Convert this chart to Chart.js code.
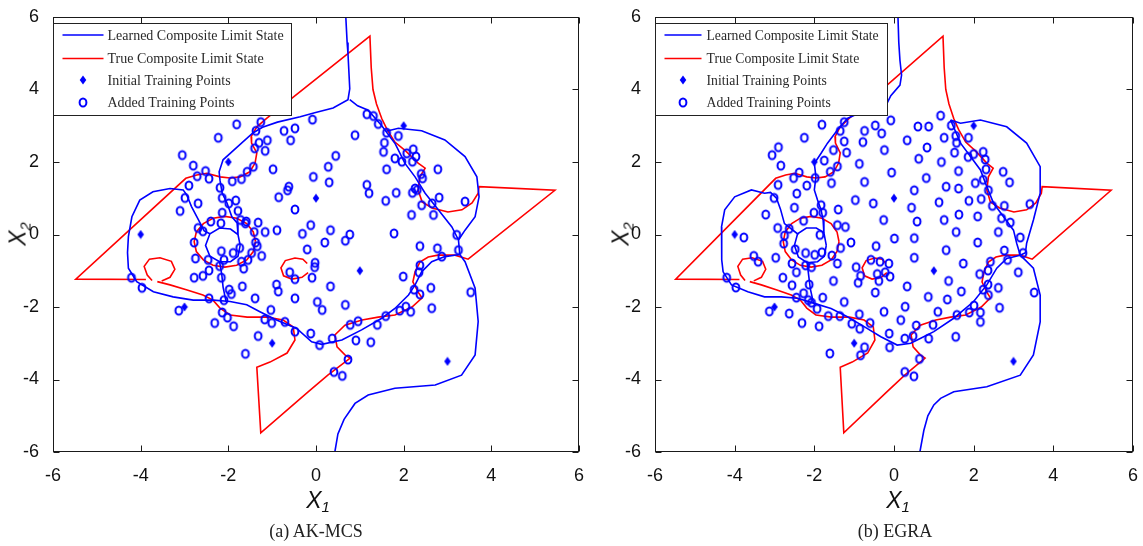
<!DOCTYPE html>
<html><head><meta charset="utf-8">
<script src="https://cdn.jsdelivr.net/npm/chart.js@4.4.0/dist/chart.umd.min.js"></script>
<style>
html,body{margin:0;padding:0;background:#fff;}
body{width:1143px;height:546px;position:relative;overflow:hidden;}
canvas{position:absolute;top:0;}
.ax{position:absolute;font-family:"Liberation Sans",Arial,sans-serif;font-size:23px;font-style:italic;color:#111;white-space:nowrap;line-height:1;}
.ax sub{font-size:15px;vertical-align:-0.3em;line-height:0;}
.xl{transform:translate(-50%,-50%);}
.yl{transform:translate(-50%,-50%) rotate(-90deg);}
.cap{position:absolute;font-family:"Liberation Serif","Times New Roman",serif;font-size:18px;color:#222;transform:translate(-50%,-50%);white-space:nowrap;}
</style></head><body>
<canvas id="c1" width="600" height="546" style="left:0"></canvas>
<canvas id="c2" width="548" height="546" style="left:595px"></canvas>
<div class="ax xl" style="left:318px;top:500px">X<sub>1</sub></div>
<div class="ax yl" style="left:18px;top:234px">X<sub>2</sub></div>
<div class="ax xl" style="left:898px;top:500px">X<sub>1</sub></div>
<div class="ax yl" style="left:621px;top:234px">X<sub>2</sub></div>
<div class="cap" style="left:316px;top:531px">(a) AK-MCS</div>
<div class="cap" style="left:895px;top:531px">(b) EGRA</div>
<script>
// ---------- tick labels ----------
const tickValues = [-6,-4,-2,0,2,4,6];
const xTickLabels = ['-6','-4','-2','0','2','4','6'];
const yTickLabels = ['-6','-4','-2','0','2','4','6'];
const legendLabels = ['Learned Composite Limit State','True Composite Limit State','Initial Training Points','Added Training Points'];

// ---------- true composite limit state (red, same in both panels) ----------
const trueMain = [[-3.62,-1.30],[-3.33,-1.39],[-2.94,-1.53],[-2.58,-1.67],[-2.35,-1.81],[-2.19,-2.03],[-1.96,-2.22],[-1.57,-2.28],[-1.12,-2.28],[-0.75,-2.36],[-0.52,-2.55],[-0.48,-2.91],[-0.66,-3.27],[-1.05,-3.52],[-1.35,-3.66],[-1.26,-5.47],[-0.18,-4.34],[0.27,-3.88],[0.78,-3.41],[0.66,-3.32],[0.48,-3.10],[0.43,-2.77],[0.66,-2.50],[1.05,-2.36],[1.42,-2.28],[1.80,-2.22],[2.19,-2.00],[2.42,-1.75],[2.33,-1.59],[2.21,-1.31],[2.26,-1.03],[2.37,-0.76],[2.56,-0.62],[2.78,-0.57],[3.17,-0.57],[3.47,-0.68],[5.45,1.22],[3.72,1.32],[3.70,1.14],[3.56,0.87],[3.33,0.68],[3.01,0.62],[2.65,0.73],[2.42,0.90],[2.33,1.23],[2.37,1.59],[2.49,1.83],[2.33,1.97],[2.05,2.30],[1.80,2.55],[1.62,2.90],[1.50,3.20],[1.38,3.60],[1.30,4.00],[1.26,4.60],[1.23,5.47],[-1.12,3.21],[-1.35,2.97],[-1.48,2.70],[-1.47,2.52],[-1.35,2.25],[-1.39,1.97],[-1.51,1.73],[-1.73,1.59],[-1.96,1.56],[-2.19,1.59],[-2.49,1.69],[-2.72,1.64],[-2.97,1.55],[-5.48,-1.23],[-3.88,-1.24]];
const trueLoopLeft = [[-3.74,-1.27],[-3.85,-1.12],[-3.92,-0.88],[-3.80,-0.68],[-3.56,-0.64],[-3.30,-0.74],[-3.22,-0.96],[-3.33,-1.18],[-3.52,-1.28]];
const trueLoopMid = [[-0.20,-0.80],[-0.30,-0.68],[-0.48,-0.65],[-0.70,-0.72],[-0.80,-0.92],[-0.74,-1.14],[-0.55,-1.23],[-0.32,-1.18],[-0.18,-1.05]];
const trueCircle = [[-1.38,-0.20],[-1.43,0.07],[-1.58,0.30],[-1.81,0.45],[-2.08,0.50],[-2.35,0.45],[-2.57,0.30],[-2.73,0.07],[-2.78,-0.20],[-2.73,-0.47],[-2.57,-0.70],[-2.35,-0.85],[-2.08,-0.90],[-1.81,-0.85],[-1.58,-0.70],[-1.43,-0.47],[-1.38,-0.20]];

// ---------- learned limit state, AK-MCS (blue) ----------
const akTop = [[0.68,6.0],[0.71,5.3],[0.73,4.98],[0.77,4.02],[0.73,3.72],[0.39,3.49],[-0.03,3.36],[-0.36,3.25],[-0.88,3.10],[-1.22,2.96],[-1.44,2.80],[-1.80,2.41],[-2.12,2.06],[-2.21,1.73],[-2.19,1.50],[-2.14,1.14],[-2.03,0.87],[-1.92,0.49],[-1.80,0.32],[-1.78,0.0]];
const akDiag = [[0.77,3.72],[0.95,3.55],[1.19,3.43],[1.50,3.00],[1.80,2.52],[2.03,1.96],[2.26,1.59],[2.49,1.14],[2.79,0.68],[3.10,0.21],[3.25,-0.15],[3.28,-0.55]];
const akUpperRight = [[1.60,2.85],[1.88,2.93],[2.41,2.86],[2.94,2.61],[3.40,2.15],[3.67,1.59],[3.72,1.04],[3.63,0.49],[3.40,0.12],[3.25,-0.15]];
const akLeftBottom = [[-2.42,0.02],[-2.55,0.10],[-2.72,0.49],[-2.84,0.77],[-2.95,1.09],[-3.03,1.23],[-3.33,1.27],[-3.72,1.18],[-4.02,0.95],[-4.20,0.49],[-4.28,-0.06],[-4.30,-0.50],[-4.28,-0.93],[-4.09,-1.30],[-3.71,-1.58],[-3.26,-1.72],[-2.80,-1.81],[-2.34,-1.81],[-1.96,-1.85],[-1.58,-1.94],[-1.28,-2.13],[-0.90,-2.36],[-0.44,-2.59],[-0.10,-2.96],[0.13,-3.03],[0.59,-2.91],[1.04,-2.63],[1.50,-2.31],[1.80,-2.04],[2.11,-1.67],[2.26,-1.39],[2.41,-1.03],[2.64,-0.75],[2.94,-0.61],[3.28,-0.55]];
const akLowerRight = [[3.28,-0.55],[3.40,-0.75],[3.63,-1.48],[3.70,-2.40],[3.63,-3.32],[3.32,-3.88],[2.72,-4.15],[1.80,-4.24],[1.19,-4.43],[0.89,-4.66],[0.64,-5.10],[0.50,-5.50],[0.43,-6.0]];
const akRing = [[-1.73,-0.30],[-1.78,0.0],[-1.95,0.15],[-2.20,0.18],[-2.42,0.02],[-2.52,-0.30],[-2.42,-0.60],[-2.20,-0.75],[-1.95,-0.75],[-1.78,-0.60],[-1.73,-0.30]];
const akRingDown = [[-2.20,-0.75],[-2.15,-1.10],[-2.12,-1.45],[-2.05,-1.86]];

// ---------- learned limit state, EGRA (blue) ----------
const egTop = [[0.10,6.0],[0.12,5.3],[0.15,4.8],[0.19,4.4],[0.15,4.12],[-0.08,3.83],[-0.17,3.63],[-0.45,3.44],[-0.90,3.34],[-1.17,3.20],[-1.42,2.88],[-1.67,2.52],[-1.83,2.24],[-2.00,1.96],[-1.96,1.59],[-2.00,1.23],[-1.92,0.95],[-1.83,0.68],[-1.78,0.40],[-1.76,0.05]];
const egDiag = [[1.42,3.16],[1.67,2.52],[1.92,2.15],[2.17,1.78],[2.33,1.32],[2.50,0.86],[2.75,0.49],[3.00,0.12],[3.08,-0.24],[3.17,-0.57]];
const egUpperRight = [[1.42,3.16],[1.67,3.07],[2.17,3.16],[2.83,2.97],[3.33,2.52],[3.67,1.87],[3.67,1.14],[3.50,0.40],[3.33,-0.24],[3.30,-0.50],[3.17,-0.57]];
const egLeftBottom = [[-2.40,0.00],[-2.75,0.30],[-2.85,0.70],[-2.95,1.00],[-3.10,1.16],[-3.25,1.14],[-3.58,1.23],[-4.00,1.04],[-4.25,0.68],[-4.33,0.21],[-4.33,-0.24],[-4.32,-0.70],[-4.29,-1.03],[-4.08,-1.39],[-3.67,-1.58],[-3.25,-1.72],[-2.83,-1.72],[-2.42,-1.76],[-2.00,-1.90],[-1.58,-2.04],[-1.17,-2.27],[-0.75,-2.54],[-0.33,-2.82],[0.08,-3.05],[0.42,-3.00],[0.67,-2.86],[1.00,-2.68],[1.50,-2.31],[2.00,-1.85],[2.33,-1.39],[2.58,-0.93],[2.83,-0.66],[3.17,-0.57]];
const egLowerRight = [[3.17,-0.57],[3.50,-0.93],[3.67,-1.67],[3.67,-2.41],[3.50,-3.32],[3.17,-3.88],[2.33,-4.20],[1.50,-4.34],[1.17,-4.52],[1.00,-4.70],[0.85,-5.00],[0.75,-5.40],[0.65,-6.0]];
const egRing = [[-1.70,-0.30],[-1.76,0.05],[-1.95,0.18],[-2.20,0.18],[-2.42,0.02],[-2.50,-0.30],[-2.40,-0.62],[-2.18,-0.78],[-1.92,-0.75],[-1.75,-0.60],[-1.70,-0.30]];
const egRingDown = [[-2.18,-0.78],[-2.14,-1.15],[-2.10,-1.50],[-2.02,-1.90]];

// ---------- training points ----------
const initialPoints = [[2,3],[-2,2],[0,1],[-4,0],[1,-1],[-3,-2],[-1,-3],[3,-3.5]];
const akAdded = [[-1.81,3.04],[-1.26,3.10],[-0.73,2.86],[-0.48,2.93],[-0.08,3.17],[-0.58,2.60],[-1.37,2.86],[-2.23,2.67],[-1.30,2.53],[-1.11,2.60],[-1.16,2.31],[-1.40,2.38],
[1.16,3.32],[1.31,3.27],[1.42,3.05],[1.61,2.81],[1.88,2.72],[0.89,2.74],[1.56,2.53],[1.54,2.28],[1.80,2.10],[1.96,2.01],[2.07,2.24],[2.22,2.35],[2.28,2.15],[2.20,2.01],[1.61,1.80],[2.40,1.67],[2.43,1.55],[2.78,1.80],[2.26,1.27],[2.31,1.23],[2.20,1.15],[2.41,0.81],[2.65,0.86],[2.81,1.02],[2.68,0.54],[2.18,0.54],[3.40,0.91],[1.78,0.03],[3.21,-0.01],[3.25,-0.43],[2.37,-0.32],[2.77,-0.38],[2.87,-0.61],[1.83,1.15],[1.59,0.93],[1.21,1.14],[1.16,1.37],[0.45,2.17],[0.28,1.87],[0.30,1.44],[-0.06,1.59],
[-0.98,1.80],[-1.43,1.87],[-1.57,1.73],[-1.70,1.53],[-1.91,1.47],[-2.44,1.54],[-2.52,1.75],[-2.71,1.61],[-2.80,1.90],[-3.05,2.19],[-2.90,1.35],[-2.19,1.29],[-2.99,1.01],[-3.10,0.65],[-2.69,0.86],[-2.14,1.01],[-1.99,0.86],[-1.83,0.94],[-1.78,0.65],[-2.14,0.60],[-2.40,0.36],[-2.17,0.31],[-1.72,0.40],[-1.59,0.36],[-1.32,0.33],[-1.41,0.07],[-1.16,0.07],[-0.89,0.12],[-0.65,1.22],[-0.62,1.32],[-0.85,1.03],[-0.48,0.69],[-0.12,0.26],[-0.31,0.02],[0.33,0.12],[0.20,-0.22],[0.77,0.00],[0.67,-0.17],[-0.20,-0.41],[-0.02,-0.78],[-0.03,-0.90],[-0.60,-1.04],[-0.48,-1.23],[-0.09,-1.19],[0.33,-1.43],[0.03,-1.86],[0.14,-2.08],[0.67,-1.94],[-0.48,-1.76],[-0.90,-1.38],[-0.86,-1.57],[-1.68,-1.43],[-1.39,-1.76],[-1.03,-2.08],[-1.01,-2.44],[-0.71,-2.41],[-0.48,-2.68],[-0.12,-2.73],[0.08,-3.05],[0.37,-2.87],[0.78,-2.49],[0.96,-2.39],[0.91,-2.92],[1.25,-2.97],[1.40,-2.49],[-1.32,-2.80],[-1.61,-3.29],[-1.17,-2.34],[-2.31,-2.44],[-2.14,-2.15],[-2.02,-2.29],[-1.88,-2.53],[-2.10,-1.81],[-2.44,-1.76],[-1.98,-1.52],[-1.93,-1.64],[-3.13,-2.10],[-4.21,-1.19],[-3.97,-1.47],[0.73,-3.45],[0.41,-3.79],[0.60,-3.90],[1.59,-2.25],[1.91,-2.10],[2.05,-1.99],[2.16,-2.13],[1.99,-1.16],[2.37,-0.85],[2.35,-1.04],[2.24,-1.52],[2.37,-1.65],[2.62,-1.47],[2.64,-2.03],[3.53,-1.59],
[-2.20,-0.87],[-2.16,-1.19],[-2.44,-0.99],[-2.58,-1.14],[-2.78,-1.19],[-2.75,-0.66],[-2.78,-0.22],[-2.69,0.18],[-2.58,0.09],[-2.46,-0.70],[-2.10,-0.70],[-2.16,-0.46],[-1.89,-0.51],[-1.74,-0.37],[-1.70,-0.75],[-1.65,-0.94],[-1.47,-0.51],[-1.38,-0.22],[-1.34,-0.32],[-1.24,-0.59],[-1.55,-0.70],[-1.61,0.31]];
const egAdded = [[1.17,3.28],[-0.08,3.15],[-0.47,3.01],[-0.31,2.79],[-0.74,2.86],[-1.25,3.10],[-1.81,3.03],[-1.35,2.86],[-1.25,2.57],[-1.19,2.26],[-0.78,2.55],[-0.24,2.33],[0.33,2.60],[0.60,2.98],[0.87,2.98],[1.26,2.67],[1.44,3.01],[0.83,2.40],[0.62,2.09],[1.19,2.00],[1.55,2.72],[1.57,2.53],[1.87,2.67],[1.52,2.26],[1.62,1.75],[1.86,2.14],[2.00,2.22],[2.24,2.28],[2.29,2.07],[2.31,1.80],[2.24,1.51],[2.04,1.42],[2.37,1.22],[2.74,1.73],[2.90,1.44],[2.19,0.98],[2.47,0.79],[2.77,0.79],[3.41,0.84],[2.70,0.45],[2.92,0.33],[2.10,0.50],[1.88,0.93],[1.63,0.55],[1.62,1.27],[1.31,1.32],[1.13,0.89],[1.26,0.40],[1.56,0.07],[1.31,-0.43],[1.74,-0.80],[2.10,-0.22],[2.62,0.07],[2.77,-0.44],[2.85,-0.70],[3.17,-0.08],[3.24,-0.51],[3.12,-1.04],[3.52,-1.60],[2.42,-0.75],[2.36,-0.99],[2.15,-1.09],[2.36,-1.38],[2.24,-1.52],[2.37,-1.67],[2.62,-1.47],[2.65,-2.02],[2.01,-1.96],[1.89,-2.15],[2.17,-2.15],[2.17,-2.41],[1.58,-2.22],[1.69,-1.57],[1.34,-1.79],[1.37,-1.28],[1.10,-2.13],[0.86,-1.72],[0.28,-1.99],[0.33,-1.43],[0.51,-0.64],[0.51,-0.10],[0.58,0.36],[0.44,0.74],[0.51,1.22],[0.81,1.56],[-0.06,1.71],[-0.52,0.86],[-0.97,0.95],[-0.74,1.45],[-0.87,1.95],[-0.26,0.40],[0.01,-0.11],[-0.45,-0.32],[-0.58,-0.70],[-0.35,-0.75],[-0.13,-0.80],[-0.42,-1.09],[-0.22,-1.04],[-0.10,-1.16],[-0.38,-1.28],[-0.47,-1.60],[-0.95,-0.90],[-0.84,-1.14],[-0.90,-1.33],[-1.08,-0.22],[-1.22,0.21],[-1.40,0.69],[-1.42,0.26],[-1.42,-0.80],[-1.56,-0.58],[-1.34,-0.37],[-1.52,-1.28],[-1.25,-1.86],[-1.79,-1.74],[-1.93,-2.05],[-1.65,-2.25],[-1.36,-2.25],[-1.06,-2.46],[-0.86,-2.60],[-0.60,-2.44],[-0.25,-2.13],[0.17,-2.36],[-0.12,-2.73],[-0.11,-3.11],[0.27,-2.87],[0.48,-2.80],[0.56,-2.51],[0.87,-2.87],[0.98,-2.49],[1.55,-2.82],[0.27,-3.79],[0.50,-3.91],[0.64,-3.43],[-1.61,-3.28],[-0.84,-3.33],[-0.74,-3.11],[-0.87,-2.20],[-1.88,-2.53],[-2.31,-2.44],[-2.63,-2.18],[-2.15,-1.81],[-2.07,-1.88],[-2.45,-1.74],[-2.56,-1.40],[-2.79,-1.19],[-2.13,-1.38],[-2.27,-1.62],[-3.13,-2.12],[-3.97,-1.46],[-4.20,-1.19],[-3.41,-0.75],[-3.52,-0.59],[-3.77,-0.08],[-2.97,-0.64],[-2.92,0.18],[-2.75,-0.03],[-2.63,0.16],[-2.77,-0.25],[-2.48,-0.41],[-2.56,-0.80],[-2.45,-1.04],[-2.22,-0.85],[-2.07,-0.90],[-2.22,-0.51],[-1.99,-0.56],[-1.86,-0.01],[-1.81,-0.49],[-1.83,0.81],[-2.01,0.60],[-2.27,0.38],[-2.50,0.74],[-2.44,1.13],[-3.01,1.01],[-3.22,0.55],[-2.91,1.37],[-2.52,1.56],[-2.38,1.71],[-2.19,1.35],[-1.98,1.56],[-1.57,1.42],[-1.60,1.73],[-1.42,1.88],[-1.75,2.04],[-1.52,2.33],[-2.25,2.67],[-2.84,1.90],[-3.06,2.19],[-2.90,2.41],[-1.79,0.60]];

// ---------- marker images ----------
const BLUE = '#0000ff', RED = '#ff0000';
function makeCircle(){
  const c = document.createElement('canvas'); c.width = 12; c.height = 13;
  const g = c.getContext('2d'); g.strokeStyle = BLUE; g.lineWidth = 2;
  g.beginPath(); g.ellipse(6, 6.5, 3.4, 4.1, 0, 0, Math.PI*2); g.stroke(); return c;
}
function makeDiamond(){
  const c = document.createElement('canvas'); c.width = 8; c.height = 10;
  const g = c.getContext('2d'); g.fillStyle = BLUE;
  g.beginPath(); g.moveTo(4,0.5); g.lineTo(7.3,5); g.lineTo(4,9.5); g.lineTo(0.7,5); g.closePath(); g.fill(); return c;
}
const circleImg = makeCircle(), diamondImg = makeDiamond();

const toXY = arr => arr.map(p => ({x:p[0], y:p[1]}));
function lineDs(pts, color, label){
  return {label: label || '', data: toXY(pts), showLine: true, borderColor: color, borderWidth: 1.6,
    pointRadius: 0, pointHoverRadius: 0, tension: 0, fill: false, order: color === RED ? 3 : 2};
}

const framePlugin = {
  id: 'frame',
  afterDatasetsDraw(chart, args, opts){
    const {ctx, chartArea: a, scales: {x, y}} = chart;
    ctx.save();
    ctx.strokeStyle = '#1a1a1a'; ctx.lineWidth = 1;
    const L = Math.round(a.left) + 0.5, R = Math.round(a.right) - 0.5, T = Math.round(a.top) + 0.5, B = Math.round(a.bottom) - 0.5;
    ctx.strokeRect(L, T, R - L, B - T);
    ctx.beginPath();
    tickValues.forEach(v => {
      const px = Math.round(x.getPixelForValue(v)) + 0.5;
      ctx.moveTo(px, B); ctx.lineTo(px, B - 6); ctx.moveTo(px, T); ctx.lineTo(px, T + 6);
      const py = Math.round(y.getPixelForValue(v)) + 0.5;
      ctx.moveTo(L, py); ctx.lineTo(L + 6, py); ctx.moveTo(R, py); ctx.lineTo(R - 6, py);
    });
    ctx.stroke();
    // legend box
    const w = opts.width, h = 92, lx = L, ly = Math.round(a.top) + 6.5;
    ctx.fillStyle = '#fff'; ctx.fillRect(lx, ly, w, h);
    ctx.strokeStyle = '#222'; ctx.lineWidth = 1; ctx.strokeRect(lx, ly, w, h);
    const rows = [18, 41.5, 63, 85].map(r => Math.round(a.top) + r);
    const s0 = lx + 9, s1 = lx + opts.sampleEnd, mid = (s0 + s1) / 2;
    ctx.lineWidth = 1.6;
    ctx.strokeStyle = BLUE; ctx.beginPath(); ctx.moveTo(s0, rows[0]); ctx.lineTo(s1, rows[0]); ctx.stroke();
    ctx.strokeStyle = RED; ctx.beginPath(); ctx.moveTo(s0, rows[1]); ctx.lineTo(s1, rows[1]); ctx.stroke();
    ctx.drawImage(diamondImg, Math.round(mid - 4), Math.round(rows[2] - 5));
    ctx.drawImage(circleImg, Math.round(mid - 6), Math.round(rows[3] - 6.5));
    ctx.fillStyle = '#2a2a2a'; ctx.textBaseline = 'middle';
    ctx.font = opts.fontSize + 'px "Liberation Serif", "Times New Roman", serif';
    legendLabels.forEach((t, i) => ctx.fillText(t, lx + opts.textX, rows[i] + 1));
    ctx.restore();
  }
};

function makeChart(id, blueCurves, added, yWidth, rightPad, legendOpts){
  const datasets = [];
  blueCurves.forEach((c, i) => datasets.push(lineDs(c, BLUE, i === 0 ? legendLabels[0] : '')));
  [trueMain, trueLoopLeft, trueLoopMid, trueCircle].forEach((c, i) => datasets.push(lineDs(c, RED, i === 0 ? legendLabels[1] : '')));
  datasets.push({label: legendLabels[2], data: toXY(initialPoints), pointStyle: diamondImg, pointRadius: 4, showLine: false, order: 0});
  datasets.push({label: legendLabels[3], data: toXY(added), pointStyle: circleImg, pointRadius: 4, showLine: false, order: 1});
  const tickFont = {family: '"Liberation Sans", Arial, sans-serif', size: 18};
  return new Chart(document.getElementById(id), {
    type: 'scatter',
    data: {datasets},
    options: {
      responsive: false, animation: false, devicePixelRatio: 1,
      layout: {padding: {left: 0, top: 17, right: rightPad, bottom: 0}},
      plugins: {legend: {display: false}, tooltip: {enabled: false}, frame: legendOpts},
      scales: {
        x: {type: 'linear', min: -6, max: 6, grid: {display: false}, border: {display: false},
            ticks: {stepSize: 2, padding: 5, color: '#111', font: tickFont, maxRotation: 0, autoSkip: false,
                    callback: (v, i) => xTickLabels[i]},
            afterFit: s => { s.height = 546 - 452; }},
        y: {type: 'linear', min: -6, max: 6, grid: {display: false}, border: {display: false},
            ticks: {stepSize: 2, padding: 6, color: '#111', font: tickFont, autoSkip: false,
                    callback: (v, i) => yTickLabels[i]},
            afterFit: s => { s.width = yWidth; }}
      }
    },
    plugins: [framePlugin]
  });
}

makeChart('c1', [akTop, akDiag, akUpperRight, akLeftBottom, akLowerRight, akRing, akRingDown], akAdded, 53, 600 - 579,
  {width: 238, sampleEnd: 50, textX: 54, fontSize: 14});
makeChart('c2', [egTop, egDiag, egUpperRight, egLeftBottom, egLowerRight, egRing, egRingDown], egAdded, 60, 548 - 540,
  {width: 232, sampleEnd: 46, textX: 51, fontSize: 13.7});
</script>
</body></html>
